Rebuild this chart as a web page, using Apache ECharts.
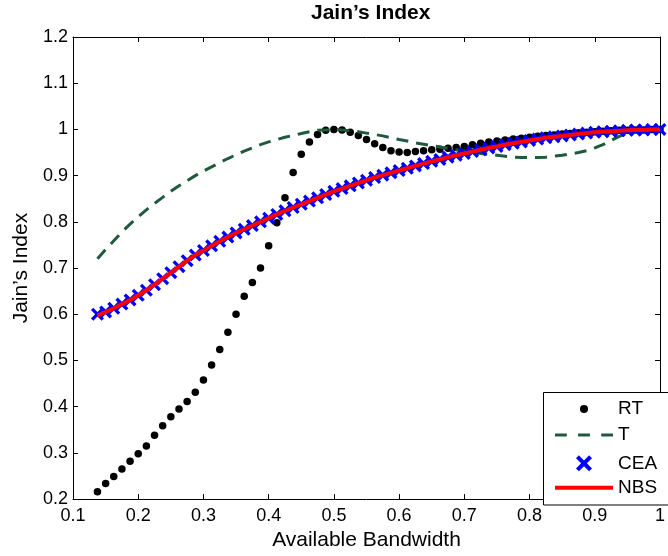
<!DOCTYPE html>
<html>
<head>
<meta charset="utf-8">
<script src="https://cdn.jsdelivr.net/npm/echarts@6/dist/echarts.min.js"></script>
<style>
html,body{margin:0;padding:0;background:#fff;}
#chart{width:668px;height:556px;}
</style>
</head>
<body>
<div id="chart"></div>
<script>
// ---- data ----
const xs = [0.1375,0.15,0.1625,0.175,0.1875,0.2,0.2125,0.225,0.2375,0.25,
            0.2625,0.275,0.2875,0.3,0.3125,0.325,0.3375,0.35,0.3625,0.375,
            0.3875,0.4,0.4125,0.425,0.4375,0.45,0.4625,0.475,0.4875,0.5,
            0.5125,0.525,0.5375,0.55,0.5625,0.575,0.5875,0.6,0.6125,0.625,
            0.6375,0.65,0.6625,0.675,0.6875,0.7,0.7125,0.725,0.7375,0.75,
            0.7625,0.775,0.7875,0.8,0.8125,0.825,0.8375,0.85,0.8625,0.875,
            0.8875,0.9,0.9125,0.925,0.9375,0.95,0.9625,0.975,0.9875,1.0];
const rtValues = [0.216,0.234,0.249,0.265,0.282,0.298,0.315,0.338,0.359,0.378,
                  0.395,0.411,0.431,0.458,0.49,0.524,0.561,0.6,0.639,0.669,
                  0.7,0.748,0.798,0.852,0.907,0.946,0.973,0.989,0.998,1.0,
                  0.999,0.994,0.987,0.978,0.969,0.961,0.954,0.951,0.95,0.952,
                  0.954,0.956,0.957,0.959,0.961,0.963,0.967,0.97,0.973,0.975,
                  0.977,0.979,0.981,0.983,0.985,0.987,0.988,0.99,0.991,0.993,
                  0.994,0.995,0.996,0.997,0.998,0.998,0.999,0.999,1.0,1.0];
const tValues = [0.72,0.74,0.759,0.778,0.795,0.811,0.826,0.84,0.853,0.866,
                 0.878,0.889,0.9,0.91,0.919,0.928,0.937,0.945,0.953,0.96,
                 0.967,0.973,0.978,0.983,0.987,0.991,0.995,0.998,0.999,1.0,
                 0.999,0.997,0.995,0.992,0.989,0.986,0.982,0.978,0.975,0.971,
                 0.968,0.965,0.962,0.959,0.956,0.953,0.95,0.948,0.946,0.944,
                 0.942,0.94,0.939,0.939,0.939,0.94,0.942,0.944,0.947,0.95,
                 0.954,0.96,0.967,0.976,0.985,0.992,0.996,0.998,0.999,1.0];
const ceaValues = [0.6,0.605,0.613,0.622,0.631,0.641,0.652,0.664,0.677,0.69,
                   0.703,0.716,0.728,0.738,0.748,0.758,0.767,0.776,0.784,0.792,
                   0.8,0.808,0.816,0.824,0.831,0.838,0.845,0.852,0.859,0.866,
                   0.872,0.878,0.884,0.89,0.896,0.901,0.906,0.911,0.916,0.921,
                   0.926,0.931,0.935,0.94,0.944,0.948,0.952,0.956,0.96,0.963,
                   0.967,0.97,0.973,0.976,0.979,0.982,0.984,0.986,0.988,0.99,
                   0.992,0.994,0.995,0.996,0.997,0.998,0.999,0.999,1.0,1.0];
const nbsValues = [0.597,0.605,0.613,0.622,0.631,0.641,0.652,0.664,0.677,0.69,
                   0.703,0.716,0.728,0.738,0.748,0.758,0.767,0.776,0.784,0.792,
                   0.8,0.808,0.816,0.824,0.831,0.838,0.845,0.852,0.859,0.866,
                   0.872,0.878,0.884,0.89,0.896,0.901,0.906,0.911,0.916,0.921,
                   0.926,0.931,0.935,0.94,0.944,0.948,0.952,0.956,0.96,0.963,
                   0.967,0.97,0.973,0.976,0.979,0.982,0.984,0.986,0.988,0.99,
                   0.992,0.994,0.995,0.996,0.997,0.998,0.999,0.999,1.0,1.0];
const seriesNames = ['RT','T','CEA','NBS'];
const titleText = 'Jain\u2019s Index';
const xAxisName = 'Available Bandwidth';
const yAxisName = 'Jain\u2019s Index';

// ---- styles ----
const FONT = '"Liberation Sans", Arial, Helvetica, sans-serif';
const C_RT = '#000000', C_T = '#1f5a3c', C_CEA = '#0000ff', C_NBS = '#ff0000';
const X_PATH = 'path://M0,1.8L1.8,0L5,3.2L8.2,0L10,1.8L6.8,5L10,8.2L8.2,10L5,6.8L1.8,10L0,8.2L3.2,5Z';
const pairs = vals => xs.map((x, i) => [x, vals[i]]);

const axisCommon = {
  axisLine: {show: true, lineStyle: {color: '#000', width: 1}},
  axisTick: {show: true, inside: true, length: 5, lineStyle: {color: '#000'}},
  splitLine: {show: false}
};

const legendBase = {
  itemWidth: 58, itemGap: 0, padding: 0, selectedMode: false, z: 60,
  textStyle: {fontSize: 19, color: '#000', fontFamily: FONT}
};

const option = {
  animation: false,
  backgroundColor: '#fff',
  title: {
    text: titleText, left: 311, top: 3, padding: 0,
    textStyle: {fontSize: 21, fontWeight: 'bold', color: '#000', fontFamily: FONT}
  },
  grid: {left: 73, top: 37, width: 596, height: 468, containLabel: false},
  xAxis: [
    Object.assign({
      type: 'value', min: 0.1, max: 1, interval: 0.1, position: 'bottom',
      axisLabel: {color: '#000', fontSize: 18, margin: 8, fontFamily: FONT},
      name: xAxisName, nameLocation: 'middle', nameGap: 26,
      nameTextStyle: {fontSize: 21, color: '#000', fontFamily: FONT}
    }, axisCommon),
    Object.assign({
      type: 'value', min: 0.1, max: 1, interval: 0.1, position: 'top',
      axisLabel: {show: false}
    }, axisCommon)
  ],
  yAxis: [
    Object.assign({
      type: 'value', min: 0.2, max: 1.2, interval: 0.1, position: 'left',
      axisLabel: {color: '#000', fontSize: 18, margin: 5, fontFamily: FONT},
      name: yAxisName, nameLocation: 'middle', nameGap: 40,
      nameTextStyle: {fontSize: 21, color: '#000', fontFamily: FONT}
    }, axisCommon),
    Object.assign({
      type: 'value', min: 0.2, max: 1.2, interval: 0.1, position: 'right',
      axisLabel: {show: false}
    }, axisCommon)
  ],
  legend: [
    Object.assign({left: 580, top: 399.5, itemHeight: 8,
      data: [{name: 'RT', icon: 'circle', itemStyle: {color: C_RT}}]}, legendBase),
    Object.assign({left: 555, top: 425.5, itemHeight: 3,
      data: [{name: 'T', icon: 'path://M0,0h12v3h-12zM23.5,0h12v3h-12zM47,0h12v3h-12z', itemStyle: {color: C_T}}]}, legendBase),
    Object.assign({left: 576, top: 453.8, itemHeight: 16,
      data: [{name: 'CEA', icon: X_PATH, itemStyle: {color: C_CEA}}]}, legendBase),
    Object.assign({left: 555, top: 478.2, itemHeight: 4,
      data: [{name: 'NBS', icon: 'path://M0,0h58v4h-58z', itemStyle: {color: C_NBS}}]}, legendBase)
  ],
  graphic: [{
    type: 'rect', z: 50,
    shape: {x: 543.5, y: 392.5, width: 140, height: 112.5},
    style: {fill: '#fff', stroke: '#000', lineWidth: 1}
  }],
  series: [
    {
      name: seriesNames[0], type: 'scatter', data: pairs(rtValues),
      symbol: 'circle', symbolSize: 7.5, itemStyle: {color: C_RT, opacity: 1}, z: 2
    },
    {
      name: seriesNames[1], type: 'line', data: pairs(tValues), showSymbol: false,
      symbol: 'none', lineStyle: {color: C_T, width: 3, type: [12, 8]}, itemStyle: {color: C_T}, z: 3
    },
    {
      name: seriesNames[2], type: 'line', data: pairs(ceaValues),
      symbol: X_PATH, symbolSize: 13, showAllSymbol: true,
      lineStyle: {width: 0, opacity: 0}, itemStyle: {color: C_CEA}, z: 4
    },
    {
      name: seriesNames[3], type: 'line', data: pairs(nbsValues), showSymbol: false,
      symbol: 'none', lineStyle: {color: C_NBS, width: 4}, itemStyle: {color: C_NBS}, z: 5
    }
  ]
};

const chart = echarts.init(document.getElementById('chart'), null, {renderer: 'canvas'});
chart.setOption(option);
</script>
</body>
</html>
